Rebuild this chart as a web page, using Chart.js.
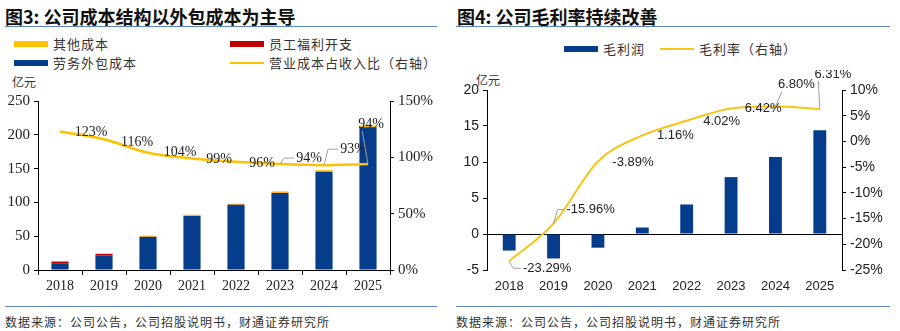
<!DOCTYPE html>
<html>
<head>
<meta charset="utf-8">
<script src="https://cdn.jsdelivr.net/npm/chart.js@4"></script>
<style>
  body { margin: 0; background: #fff; }
  #page { position: relative; width: 900px; height: 331px; overflow: hidden; font-family: "Noto Sans CJK SC", sans-serif; color: #222; }
  .title { position: absolute; top: 3px; font-size: 18px; font-weight: bold; color: #111; white-space: nowrap; }
  .rule { position: absolute; height: 0; border-top: 1.5px solid #5b87c0; }
  .leg { position: absolute; font-size: 13px; color: #333; letter-spacing: 1px; white-space: nowrap; line-height: 16px; }
  .sw { display: inline-block; width: 34px; height: 6px; vertical-align: middle; margin-right: 5px; position: relative; top: -1px; }
  .ln { display: inline-block; width: 34px; height: 2px; vertical-align: middle; margin-right: 5px; position: relative; top: -1px; }
  .unit { position: absolute; font-size: 12px; color: #333; }
  .src { position: absolute; top: 313px; font-size: 12px; color: #333; letter-spacing: 1px; white-space: nowrap; }
  canvas { position: absolute; }
</style>
</head>
<body>
<div id="page">
  <div class="title" style="left:5px">图3: 公司成本结构以外包成本为主导</div>
  <div class="rule" style="left:5px; width:432px; top:26px"></div>
  <div class="leg" style="left:14px; top:36px"><span class="sw" style="background:#FFC000"></span>其他成本</div>
  <div class="leg" style="left:230px; top:36px"><span class="sw" style="background:#C00000"></span>员工福利开支</div>
  <div class="leg" style="left:14px; top:55px"><span class="sw" style="background:#053C8C"></span>劳务外包成本</div>
  <div class="leg" style="left:230px; top:55px"><span class="ln" style="background:#FFC000"></span>营业成本占收入比（右轴）</div>
  <div class="unit" style="left:12px; top:73px">亿元</div>

  <div class="title" style="left:457px">图4: 公司毛利率持续改善</div>
  <div class="rule" style="left:456px; width:434px; top:26px"></div>
  <div class="leg" style="left:564px; top:41px"><span class="sw" style="background:#053C8C"></span>毛利润</div>
  <div class="leg" style="left:660px; top:41px"><span class="ln" style="background:#F5C518"></span>毛利率（右轴）</div>
  <div class="unit" style="left:476px; top:71px">亿元</div>

  <canvas id="costChart" width="450" height="230" style="left:0; top:70px"></canvas>
  <canvas id="marginChart" width="450" height="230" style="left:450px; top:70px"></canvas>

  <div class="rule" style="left:5px; width:432px; top:306px"></div>
  <div class="rule" style="left:456px; width:434px; top:306px"></div>
  <div class="src" style="left:5px">数据来源：公司公告，公司招股说明书，财通证券研究所</div>
  <div class="src" style="left:456px">数据来源：公司公告，公司招股说明书，财通证券研究所</div>
</div>

<script>
// ---- data ----
var years = ['2018', '2019', '2020', '2021', '2022', '2023', '2024', '2025']

// 图3 成本结构 (亿元)
var outsourceCost = [10, 21.5, 49, 80, 96.5, 114, 145.5, 211]
var welfareCost = [2.5, 2.5, 0.2, 0.2, 0.2, 0.2, 0.2, 0.2]
var otherCost = [0, 0, 1.5, 1.5, 1.5, 2, 2, 2.5]
var costRatio = [123, 116, 104, 99, 96, 94, 93, 94]

// 图4 毛利 (亿元) / 毛利率 (%)
var grossProfit = [-2.3, -3.4, -1.9, 0.9, 4.1, 7.9, 10.7, 14.4]
var grossMargin = [-23.29, -15.96, -3.89, 1.16, 4.02, 6.42, 6.80, 6.31]

var costTicksLeft = [0, 50, 100, 150, 200, 250]
var costTicksRight = [0, 50, 100, 150]

var BLUE = '#053C8C'
var serif = 'Liberation Serif'
var sans = 'Liberation Sans'

// label plugin: draws point labels with offsets and optional leader lines
var pointLabels = {
  id: 'pointLabels',
  afterDatasetsDraw: function (chart) {
    var cfg = chart.options.plugins.pointLabels
    if (!cfg) return
    var meta = chart.getDatasetMeta(cfg.dataset)
    var ctx = chart.ctx
    ctx.save()
    ctx.font = cfg.font
    ctx.fillStyle = '#222'
    ctx.textAlign = 'center'
    ctx.textBaseline = 'middle'
    meta.data.forEach(function (pt, i) {
      var off = cfg.offsets[i]
      var lx = pt.x + off[0], ly = pt.y + off[1]
      var txt = cfg.text[i]
      var w = ctx.measureText(txt).width
      if (off[2]) {
        ctx.strokeStyle = '#a0a0a0'
        ctx.lineWidth = 1
        ctx.beginPath()
        ctx.moveTo(pt.x, pt.y)
        if (off[2] === 'left') {
          ctx.lineTo(pt.x + 4, ly)
          ctx.lineTo(lx - w / 2 - 2, ly)
        } else {
          ctx.lineTo(lx - w / 2 + 4, ly + 7)
        }
        ctx.stroke()
      }
      ctx.fillText(txt, lx, ly)
    })
    ctx.restore()
  }
}

new Chart(document.getElementById('costChart').getContext('2d'), {
  type: 'bar',
  data: {
    labels: years,
    datasets: [
      { type: 'line', label: '营业成本占收入比（右轴）', data: costRatio, yAxisID: 'y1', borderColor: '#FFC000', borderWidth: 2.5, pointRadius: 0, cubicInterpolationMode: 'monotone', order: 0 },
      { label: '劳务外包成本', data: outsourceCost, backgroundColor: BLUE, barPercentage: 0.39, categoryPercentage: 1, order: 1 },
      { label: '员工福利开支', data: welfareCost, backgroundColor: '#C00000', barPercentage: 0.39, categoryPercentage: 1, order: 1 },
      { label: '其他成本', data: otherCost, backgroundColor: '#FFC000', barPercentage: 0.39, categoryPercentage: 1, order: 1 }
    ]
  },
  options: {
    responsive: false,
    animation: false,
    layout: { padding: { top: 31, left: 0, right: 0, bottom: 0 } },
    plugins: {
      legend: { display: false },
      tooltip: { enabled: false },
      pointLabels: {
        dataset: 0,
        font: '14px "Liberation Serif"',
        text: costRatio.map(function (v) { return v + '%' }),
        offsets: [[31, 1], [33, 3], [32, 0], [27, 1], [26, 1], [29, -6, 'left'], [29, -16, 'left'], [3, -40, 'bottom']]
      }
    },
    scales: {
      x: {
        stacked: true,
        afterFit: function (s) { s.height = 30 },
        border: { color: '#000' },
        grid: { drawOnChartArea: false, tickLength: 5, tickColor: '#000', offset: true },
        ticks: { color: '#222', padding: 3, font: { family: serif, size: 14 } }
      },
      y: {
        stacked: true,
        min: 0, max: 250,
        afterFit: function (s) { s.width = 38 },
        afterBuildTicks: function (s) { s.ticks = costTicksLeft.map(function (v) { return { value: v } }) },
        border: { color: '#000' },
        grid: { drawOnChartArea: false, tickLength: 4, tickColor: '#000' },
        ticks: { color: '#222', padding: 4, font: { family: serif, size: 15 } }
      },
      y1: {
        position: 'right',
        min: 0, max: 150,
        afterFit: function (s) { s.width = 60 },
        afterBuildTicks: function (s) { s.ticks = costTicksRight.map(function (v) { return { value: v } }) },
        border: { color: '#000' },
        grid: { drawOnChartArea: false, tickLength: 4, tickColor: '#000' },
        ticks: { color: '#222', padding: 4, font: { family: serif, size: 15 }, callback: function (v) { return v + '%' } }
      }
    }
  },
  plugins: [pointLabels]
})

new Chart(document.getElementById('marginChart').getContext('2d'), {
  type: 'bar',
  data: {
    labels: years,
    datasets: [
      { type: 'line', label: '毛利率（右轴）', data: grossMargin, yAxisID: 'y1', borderColor: '#F5C518', borderWidth: 2, pointRadius: 0, cubicInterpolationMode: 'monotone', order: 0 },
      { label: '毛利润', data: grossProfit, backgroundColor: BLUE, barPercentage: 0.29, categoryPercentage: 1, order: 1 }
    ]
  },
  options: {
    responsive: false,
    animation: false,
    layout: { padding: { top: 20, left: 0, right: 0, bottom: 0 } },
    plugins: {
      legend: { display: false },
      tooltip: { enabled: false },
      pointLabels: {
        dataset: 0,
        font: '13px "Liberation Sans"',
        text: grossMargin.map(function (v) { return v.toFixed(2) + '%' }),
        offsets: [[38, 7, 'left'], [37, -14, 'left'], [35, 1], [33, 0], [35, 1], [32, 0], [21, -22, 'bottom'], [13, -35, 'bottom']]
      }
    },
    scales: {
      x: {
        afterFit: function (s) { s.height = 30 },
        border: { display: false },
        grid: { display: false, drawTicks: false },
        ticks: { color: '#222', padding: 9, font: { family: sans, size: 13 } }
      },
      y: {
        min: -5, max: 20,
        afterFit: function (s) { s.width = 37 },
        border: { color: '#000' },
        grid: {
          color: function (c) { return c.tick && c.tick.value === 0 ? '#000' : 'rgba(0,0,0,0)' },
          tickColor: '#000', tickLength: 4
        },
        ticks: { stepSize: 5, color: '#222', padding: 4, font: { family: sans, size: 14 } }
      },
      y1: {
        position: 'right',
        min: -25, max: 10,
        afterFit: function (s) { s.width = 58 },
        border: { color: '#000' },
        grid: { drawOnChartArea: false, tickLength: 4, tickColor: '#000' },
        ticks: { stepSize: 5, color: '#222', padding: 4, font: { family: sans, size: 14 }, callback: function (v) { return v + '%' } }
      }
    }
  },
  plugins: [pointLabels]
})
</script>
</body>
</html>
